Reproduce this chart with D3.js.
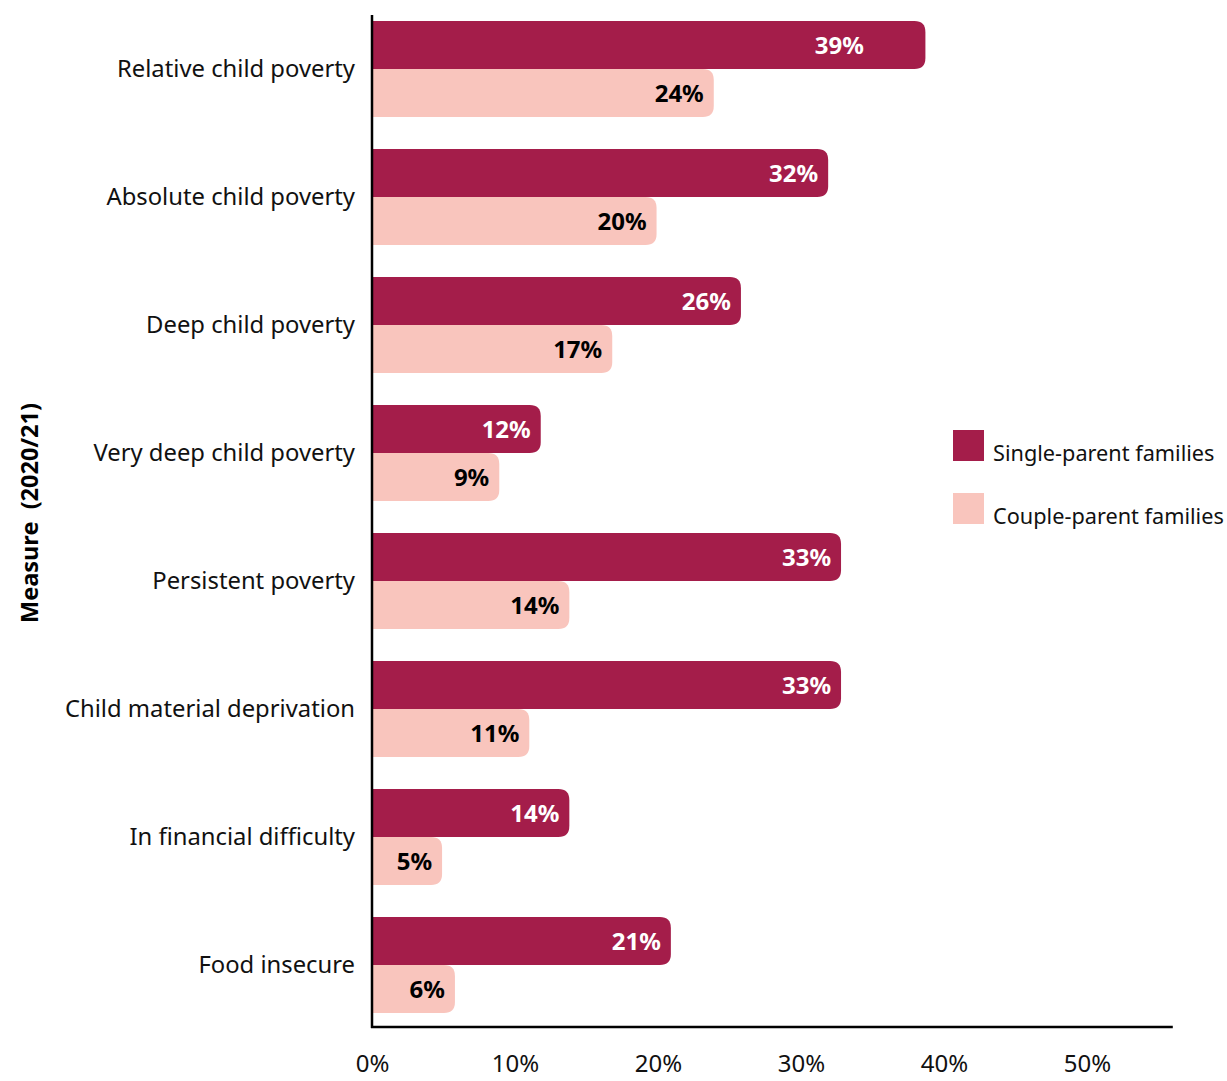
<!DOCTYPE html>
<html lang="en">
<head>
    <meta charset="UTF-8">
    <title>Child poverty measures by family type</title>
    <script src="https://d3js.org/d3.v7.min.js"></script>
    <style>
        body {
            margin: 0;
            background: #fff;
            font-family: "Noto Sans", sans-serif;
        }
        svg text { font-family: "Noto Sans", sans-serif; }
        .cat-label { font-size: 23.8px; fill: #111; }
        .tick-label { font-size: 24px; fill: #111; }
        .bar-label { font-size: 24px; font-weight: bold; }
        .legend-text { font-size: 21.7px; fill: #111; }
    </style>
</head>
<body>
<div id="chart"></div>
<script>
    // 数据
    const categories = [
        "Relative child poverty",
        "Absolute child poverty",
        "Deep child poverty",
        "Very deep child poverty",
        "Persistent poverty",
        "Child material deprivation",
        "In financial difficulty",
        "Food insecure"
    ];
    const seriesNames = ["Single-parent families", "Couple-parent families"];
    const singleValues = [38.7, 31.9, 25.8, 11.8, 32.8, 32.8, 13.8, 20.9];
    const coupleValues = [23.9, 19.9, 16.8, 8.9, 13.8, 11.0, 4.9, 5.8];
    const singleLabels = ["39%", "32%", "26%", "12%", "33%", "33%", "14%", "21%"];
    const coupleLabels = ["24%", "20%", "17%", "9%", "14%", "11%", "5%", "6%"];
    const xTicks = [0, 10, 20, 30, 40, 50];

    const colors = ["#a41d4a", "#f9c5bd"];
    const labelColors = ["#ffffff", "#000000"];

    const W = 1227, H = 1081;
    const svg = d3.select("#chart").append("svg")
        .attr("width", W)
        .attr("height", H);

    // 比例尺
    const x = d3.scaleLinear().domain([0, 56]).range([372, 1172.8]);
    const y = d3.scaleBand().domain(categories).range([5, 1029])
        .paddingInner(0.25).paddingOuter(0.125);
    const ySub = d3.scaleBand().domain([0, 1]).range([0, y.bandwidth()]);

    const rows = categories.map((c, i) => ({
        cat: c,
        vals: [
            { s: 0, v: singleValues[i], label: singleLabels[i] },
            { s: 1, v: coupleValues[i], label: coupleLabels[i] }
        ]
    }));

    // 右侧圆角矩形
    function barPath(x0, x1, y0, h, r) {
        r = Math.min(r, (x1 - x0), h / 2);
        return `M${x0},${y0}H${x1 - r}Q${x1},${y0} ${x1},${y0 + r}` +
            `V${y0 + h - r}Q${x1},${y0 + h} ${x1 - r},${y0 + h}H${x0}Z`;
    }

    const groups = svg.selectAll(".group")
        .data(rows)
        .enter().append("g")
        .attr("class", "group")
        .attr("transform", d => `translate(0,${y(d.cat)})`);

    groups.selectAll("path")
        .data(d => d.vals)
        .enter().append("path")
        .attr("d", d => barPath(x(0), x(d.v), ySub(d.s), ySub.bandwidth(), 11))
        .attr("fill", d => colors[d.s]);

    // 标签不超过 ~34.4% 位置（原图中最长的条形标签向内收）
    const labelMax = x(34.4);
    groups.selectAll(".bar-label")
        .data(d => d.vals)
        .enter().append("text")
        .attr("class", "bar-label")
        .attr("x", d => Math.min(x(d.v) - 10, labelMax))
        .attr("y", d => ySub(d.s) + ySub.bandwidth() / 2)
        .attr("dy", "0.36em")
        .attr("text-anchor", "end")
        .attr("fill", d => labelColors[d.s])
        .text(d => d.label);

    // Y 轴
    const yAxis = svg.append("g")
        .attr("transform", `translate(${x(0)},0)`)
        .call(d3.axisLeft(y).tickSize(0).tickPadding(17));
    yAxis.attr("font-family", null).attr("font-size", null);
    yAxis.select(".domain").remove();
    yAxis.selectAll("text")
        .attr("class", "cat-label");

    svg.append("line")
        .attr("x1", x(0)).attr("x2", x(0))
        .attr("y1", 15).attr("y2", 1028)
        .attr("stroke", "#000").attr("stroke-width", 2.5);

    // X 轴
    const xAxis = svg.append("g")
        .attr("transform", `translate(0,1027)`)
        .call(d3.axisBottom(x).tickValues(xTicks).tickSize(0).tickPadding(28)
            .tickFormat(d => d + "%"));
    xAxis.attr("font-family", null).attr("font-size", null);
    xAxis.select(".domain").remove();
    xAxis.selectAll("text")
        .attr("class", "tick-label");

    svg.append("line")
        .attr("x1", x(0) - 1).attr("x2", x(56))
        .attr("y1", 1027).attr("y2", 1027)
        .attr("stroke", "#000").attr("stroke-width", 2.5);

    // 轴标题
    svg.append("text")
        .attr("transform", `translate(38,513) rotate(-90)`)
        .attr("text-anchor", "middle")
        .attr("font-size", 23.5)
        .attr("font-weight", "bold")
        .attr("fill", "#000")
        .style("white-space", "pre")
        .text("Measure  (2020/21)");

    // 图例
    const legend = svg.selectAll(".legend")
        .data(seriesNames)
        .enter().append("g")
        .attr("class", "legend")
        .attr("transform", (d, i) => `translate(953,${430 + i * 63})`);

    legend.append("rect")
        .attr("width", 31).attr("height", 31)
        .attr("fill", (d, i) => colors[i]);

    legend.append("text")
        .attr("class", "legend-text")
        .attr("x", 40)
        .attr("y", 31)
        .text(d => d);
</script>
</body>
</html>
